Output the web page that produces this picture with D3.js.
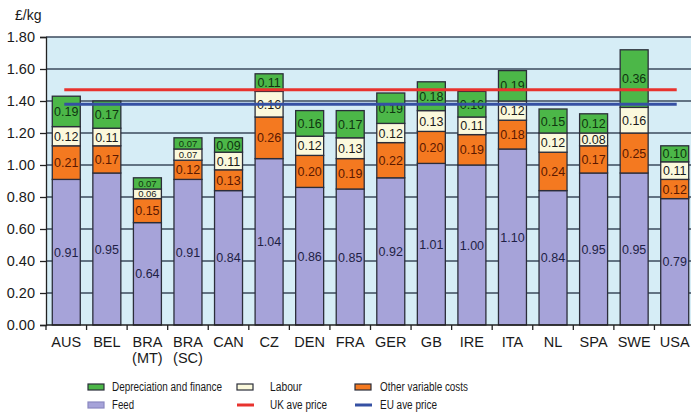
<!DOCTYPE html>
<html>
<head>
<meta charset="utf-8">
<script src="https://cdn.jsdelivr.net/npm/d3@7"></script>
<style>
  html, body { margin: 0; padding: 0; background: #ffffff; }
  svg { display: block; font-family: "Liberation Sans", Arial, sans-serif; }
</style>
</head>
<body>
<svg id="chart" width="691" height="412"></svg>
<script>
// Countries (two-line labels use \n)
const categories = ["AUS", "BEL", "BRA\n(MT)", "BRA\n(SC)", "CAN", "CZ", "DEN", "FRA",
                    "GER", "GB", "IRE", "ITA", "NL", "SPA", "SWE", "USA"];

// Cost components, £/kg
const feed          = [0.91, 0.95, 0.64, 0.91, 0.84, 1.04, 0.86, 0.85, 0.92, 1.01, 1.00, 1.10, 0.84, 0.95, 0.95, 0.79];
const otherVariable = [0.21, 0.17, 0.15, 0.12, 0.13, 0.26, 0.20, 0.19, 0.22, 0.20, 0.19, 0.18, 0.24, 0.17, 0.25, 0.12];
const labour        = [0.12, 0.11, 0.06, 0.07, 0.11, 0.16, 0.12, 0.13, 0.12, 0.13, 0.11, 0.12, 0.12, 0.08, 0.16, 0.11];
const depreciation  = [0.19, 0.17, 0.07, 0.07, 0.09, 0.11, 0.16, 0.17, 0.19, 0.18, 0.16, 0.19, 0.15, 0.12, 0.36, 0.10];

// Reference prices, £/kg
const ukAvePrice = 1.47;
const euAvePrice = 1.38;

const yTicks = [0, 0.2, 0.4, 0.6, 0.8, 1.0, 1.2, 1.4, 1.6, 1.8];

const series = [
  { key: "feed",  name: "Feed",                       values: feed,          fill: "#a6a3d9", text: "#1f1f45" },
  { key: "other", name: "Other variable costs",       values: otherVariable, fill: "#f47920", text: "#5a1800" },
  { key: "lab",   name: "Labour",                     values: labour,        fill: "#fbf9dc", text: "#1a1a1a" },
  { key: "dep",   name: "Depreciation and finance",   values: depreciation,  fill: "#4cb748", text: "#0f3510" }
];

const svg = d3.select("#chart");
const plot = { left: 46, right: 695, top: 37, bottom: 325 };

const x = d3.scaleBand()
  .domain(categories)
  .range([plot.left, plot.right])
  .paddingInner(0.31)
  .paddingOuter(0.155);

const y = d3.scaleLinear().domain([0, 1.8]).range([plot.bottom, plot.top]);

// Plot background
svg.append("rect")
  .attr("x", plot.left).attr("y", plot.top)
  .attr("width", plot.right - plot.left).attr("height", plot.bottom - plot.top)
  .attr("fill", "#d6edf6");

// Horizontal gridlines
svg.append("g")
  .selectAll("line")
  .data(yTicks.filter(d => d > 0))
  .join("line")
  .attr("x1", plot.left).attr("x2", plot.right)
  .attr("y1", d => y(d)).attr("y2", d => y(d))
  .attr("stroke", "#3b4a5c").attr("stroke-width", 1.3);

// Stack the components
const rows = categories.map((c, i) => {
  const r = { cat: c };
  series.forEach(s => r[s.key] = s.values[i]);
  return r;
});
const stacked = d3.stack().keys(series.map(s => s.key))(rows);

const barGroups = svg.append("g")
  .selectAll("g")
  .data(stacked)
  .join("g")
  .attr("fill", (d, i) => series[i].fill);

barGroups.selectAll("rect")
  .data(d => d)
  .join("rect")
  .attr("x", d => x(d.data.cat))
  .attr("width", x.bandwidth())
  .attr("y", d => y(d[1]))
  .attr("height", d => y(d[0]) - y(d[1]))
  .attr("stroke", "#2b2d3a")
  .attr("stroke-width", 1.3);

// Value labels in the middle of each segment; thin segments get a smaller face
stacked.forEach((layer, i) => {
  svg.append("g")
    .selectAll("text")
    .data(layer)
    .join("text")
    .attr("x", d => x(d.data.cat) + x.bandwidth() / 2)
    .attr("y", d => (y(d[0]) + y(d[1])) / 2)
    .attr("dy", "0.36em")
    .attr("text-anchor", "middle")
    .attr("font-size", d => (d[1] - d[0]) < 0.075 ? 9.5 : 12.5)
    .attr("fill", series[i].text)
    .text(d => (d[1] - d[0]).toFixed(2));
});

// Price lines spanning the first to last bar
const xStart = x(categories[0]) + x.bandwidth() / 2 - 2;
const xEnd = x(categories[categories.length - 1]) + x.bandwidth() / 2 + 2;
svg.append("line")
  .attr("x1", xStart).attr("x2", xEnd)
  .attr("y1", y(ukAvePrice)).attr("y2", y(ukAvePrice))
  .attr("stroke", "#e8332e").attr("stroke-width", 3);
svg.append("line")
  .attr("x1", xStart).attr("x2", xEnd)
  .attr("y1", y(euAvePrice)).attr("y2", y(euAvePrice))
  .attr("stroke", "#3550a3").attr("stroke-width", 3);

// Y axis
const yAxis = d3.axisLeft(y)
  .tickValues(yTicks)
  .tickFormat(d3.format(".2f"))
  .tickSize(6)
  .tickPadding(5);
const yg = svg.append("g").attr("transform", `translate(${plot.left},0)`).call(yAxis);
yg.select(".domain").attr("stroke", "#222").attr("stroke-width", 1.3);
yg.selectAll(".tick line").attr("stroke", "#222").attr("stroke-width", 1.3);
yg.selectAll(".tick text").attr("font-size", 14.5).attr("fill", "#1a1a1a")
  .attr("font-family", "Liberation Sans, Arial, sans-serif");

// Unit label
svg.append("text")
  .attr("x", 15).attr("y", 20)
  .attr("font-size", 14).attr("fill", "#1a1a1a")
  .text("£/kg");

// X axis: baseline and ticks at category boundaries
svg.append("line")
  .attr("x1", plot.left).attr("x2", plot.right)
  .attr("y1", plot.bottom).attr("y2", plot.bottom)
  .attr("stroke", "#222").attr("stroke-width", 1.3);
const step = x.step();
svg.append("g")
  .selectAll("line")
  .data(d3.range(categories.length + 1))
  .join("line")
  .attr("x1", i => plot.left + i * step)
  .attr("x2", i => plot.left + i * step)
  .attr("y1", plot.bottom).attr("y2", plot.bottom + 5)
  .attr("stroke", "#222").attr("stroke-width", 1.3);

// Category labels
const xl = svg.append("g")
  .selectAll("text")
  .data(categories)
  .join("text")
  .attr("x", d => x(d) + x.bandwidth() / 2)
  .attr("y", 347)
  .attr("text-anchor", "middle")
  .attr("font-size", 14.5)
  .attr("fill", "#1a1a1a");
xl.selectAll("tspan")
  .data(d => d.split("\n"))
  .join("tspan")
  .attr("x", function () { return d3.select(this.parentNode).attr("x"); })
  .attr("dy", (d, i) => i === 0 ? 0 : 16)
  .text(d => d);

// Legend (narrow label face, fitted to set widths)
const legendItems = [
  { name: "Depreciation and finance", type: "box",  color: "#4cb748", x: 88,  y: 387, tx: 24, w: 110 },
  { name: "Labour",                   type: "box",  color: "#fbf9dc", x: 237, y: 387, tx: 33, w: 32 },
  { name: "Other variable costs",     type: "box",  color: "#f47920", x: 355, y: 387, tx: 25, w: 88 },
  { name: "Feed",                     type: "box",  color: "#a6a3d9", x: 88,  y: 405, tx: 24, w: 22 },
  { name: "UK ave price",             type: "line", color: "#e8332e", x: 237, y: 405, tx: 33, w: 57 },
  { name: "EU ave price",             type: "line", color: "#3550a3", x: 355, y: 405, tx: 25, w: 57 }
];
const lg = svg.append("g")
  .selectAll("g")
  .data(legendItems)
  .join("g")
  .attr("transform", d => `translate(${d.x},${d.y})`);
lg.filter(d => d.type === "box")
  .append("rect")
  .attr("x", 0).attr("y", -3).attr("width", 16).attr("height", 6)
  .attr("fill", d => d.color)
  .attr("stroke", d => d.name === "Feed" ? "#8a88c0" : "#2b2d3a")
  .attr("stroke-width", 1.2);
lg.filter(d => d.type === "line")
  .append("line")
  .attr("x1", 0).attr("x2", 17).attr("y1", 0).attr("y2", 0)
  .attr("stroke", d => d.color).attr("stroke-width", 3);
lg.append("text")
  .attr("x", d => d.tx)
  .attr("y", 0).attr("dy", "0.36em")
  .attr("font-size", 12).attr("fill", "#1a1a1a")
  .attr("textLength", d => d.w)
  .attr("lengthAdjust", "spacingAndGlyphs")
  .text(d => d.name);
</script>
</body>
</html>
